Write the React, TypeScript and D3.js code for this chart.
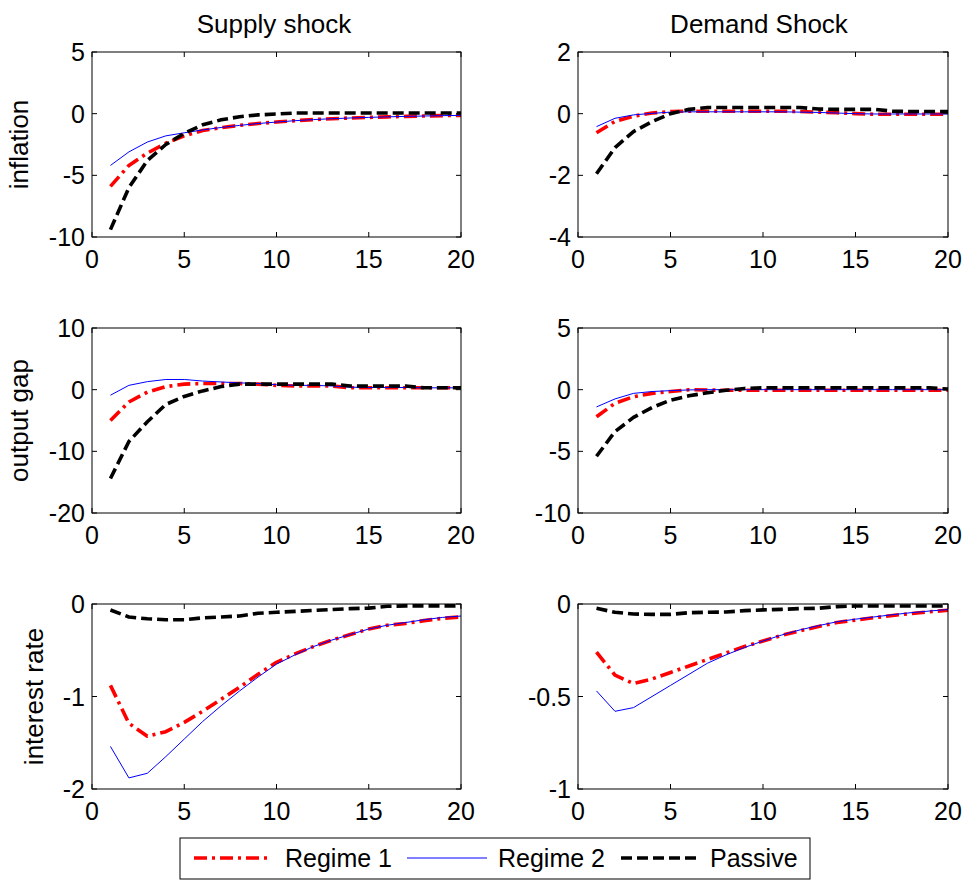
import React from "react";
import * as d3 from "d3";

const periods = [1, 2, 3, 4, 5, 6, 7, 8, 9, 10, 11, 12, 13, 14, 15, 16, 17, 18, 19, 20];
const xTicks = [0, 5, 10, 15, 20];
const seriesNames = ["Regime 1", "Regime 2", "Passive"];
const columnTitles = ["Supply shock", "Demand Shock"];
const rowLabels = ["inflation", "output gap", "interest rate"];

const inflSupplyR1 = [-5.9, -4.2, -3.2, -2.4, -1.8, -1.37, -1.13, -0.95, -0.8, -0.68, -0.57, -0.48, -0.41, -0.35, -0.3, -0.26, -0.22, -0.19, -0.16, -0.14];
const inflSupplyR2 = [-4.2, -3.1, -2.3, -1.8, -1.55, -1.32, -1.12, -0.95, -0.8, -0.68, -0.57, -0.48, -0.41, -0.35, -0.3, -0.26, -0.22, -0.19, -0.16, -0.14];
const inflSupplyP = [-9.4, -6.0, -3.8, -2.5, -1.6, -0.9, -0.5, -0.25, -0.1, -0.03, 0.05, 0.05, 0.05, 0.05, 0.05, 0.05, 0.05, 0.05, 0.05, 0.05];

const inflDemandR1 = [-0.62, -0.25, -0.08, 0.02, 0.07, 0.08, 0.08, 0.08, 0.08, 0.08, 0.08, 0.07, 0.05, 0.03, 0.0, -0.02, -0.02, -0.02, -0.02, -0.02];
const inflDemandR2 = [-0.42, -0.15, -0.04, 0.01, 0.05, 0.06, 0.06, 0.06, 0.06, 0.06, 0.06, 0.05, 0.04, 0.02, 0.0, -0.01, -0.01, -0.01, -0.01, -0.01];
const inflDemandP = [-1.95, -1.1, -0.58, -0.26, 0.0, 0.14, 0.2, 0.2, 0.2, 0.2, 0.2, 0.2, 0.15, 0.14, 0.14, 0.14, 0.08, 0.07, 0.07, 0.07];

const outSupplyR1 = [-5.0, -2.0, -0.4, 0.5, 0.9, 1.0, 1.0, 1.0, 0.9, 0.7, 0.6, 0.6, 0.6, 0.3, 0.3, 0.3, 0.3, 0.3, 0.3, 0.3];
const outSupplyR2 = [-0.9, 0.7, 1.3, 1.65, 1.65, 1.4, 1.25, 1.1, 1.0, 0.8, 0.7, 0.7, 0.6, 0.4, 0.35, 0.35, 0.35, 0.3, 0.3, 0.3];
const outSupplyP = [-14.4, -8.4, -5.2, -2.4, -1.1, -0.2, 0.5, 0.9, 0.9, 0.9, 0.9, 0.9, 0.9, 0.6, 0.6, 0.6, 0.6, 0.3, 0.3, 0.3];

const outDemandR1 = [-2.2, -1.1, -0.57, -0.3, -0.15, 0.0, -0.03, -0.05, -0.05, -0.05, -0.05, -0.05, -0.05, -0.05, -0.05, -0.05, -0.05, -0.05, -0.05, -0.05];
const outDemandR2 = [-1.4, -0.75, -0.3, -0.15, -0.08, -0.02, 0, 0, 0, 0, 0, 0, 0, 0, 0, 0, 0, 0, 0, 0];
const outDemandP = [-5.4, -3.4, -2.25, -1.45, -0.85, -0.5, -0.25, -0.05, 0.1, 0.15, 0.15, 0.15, 0.15, 0.15, 0.15, 0.15, 0.15, 0.15, 0.15, 0.05];

const rateSupplyR1 = [-0.88, -1.29, -1.43, -1.38, -1.28, -1.16, -1.03, -0.9, -0.76, -0.63, -0.54, -0.46, -0.39, -0.33, -0.27, -0.23, -0.21, -0.18, -0.155, -0.14];
const rateSupplyR2 = [-1.54, -1.88, -1.83, -1.65, -1.46, -1.27, -1.1, -0.94, -0.79, -0.65, -0.55, -0.46, -0.39, -0.33, -0.27, -0.23, -0.2, -0.17, -0.145, -0.13];
const rateSupplyP = [-0.065, -0.14, -0.16, -0.17, -0.17, -0.15, -0.14, -0.13, -0.1, -0.09, -0.08, -0.07, -0.06, -0.05, -0.045, -0.025, -0.02, -0.02, -0.02, -0.02];

const rateDemandR1 = [-0.26, -0.385, -0.43, -0.405, -0.37, -0.335, -0.3, -0.265, -0.23, -0.2, -0.17, -0.145, -0.122, -0.1, -0.087, -0.074, -0.062, -0.052, -0.042, -0.034];
const rateDemandR2 = [-0.47, -0.58, -0.56, -0.5, -0.44, -0.38, -0.32, -0.275, -0.235, -0.2, -0.168, -0.14, -0.117, -0.096, -0.082, -0.07, -0.058, -0.047, -0.038, -0.03];
const rateDemandP = [-0.023, -0.045, -0.054, -0.056, -0.056, -0.047, -0.045, -0.043, -0.036, -0.032, -0.029, -0.025, -0.023, -0.014, -0.011, -0.011, -0.011, -0.011, -0.011, -0.011];

const yDomains = [
  [[-10, 5], [-4, 2]],
  [[-20, 10], [-10, 5]],
  [[-2, 0], [-1, 0]],
];
const yTickSets = [
  [[-10, -5, 0, 5], [-4, -2, 0, 2]],
  [[-20, -10, 0, 10], [-10, -5, 0, 5]],
  [[-2, -1, 0], [-1, -0.5, 0]],
];
const panelData = [
  [[inflSupplyR1, inflSupplyR2, inflSupplyP], [inflDemandR1, inflDemandR2, inflDemandP]],
  [[outSupplyR1, outSupplyR2, outSupplyP], [outDemandR1, outDemandR2, outDemandP]],
  [[rateSupplyR1, rateSupplyR2, rateSupplyP], [rateDemandR1, rateDemandR2, rateDemandP]],
];

const styles = [
  { color: "#ff0000", width: 3.6, dash: "13,5,3,5" },
  { color: "#0000ff", width: 1, dash: "none" },
  { color: "#000000", width: 3.6, dash: "11,5" },
];

const FONT = "'Liberation Sans', Arial, Helvetica, sans-serif";
const colLeft = [92, 578];
const colWidth = [369, 370];
const rowTop = [52, 328, 604];
const panelH = 185;
const tickLen = 5;

function fmt(v: number) {
  return String(v);
}

function Panel({ r, c }: { r: number; c: number }) {
  const x0 = colLeft[c];
  const w = colWidth[c];
  const y0 = rowTop[r];
  const xs = d3.scaleLinear().domain([0, 20]).range([x0, x0 + w]);
  const ys = d3.scaleLinear().domain(yDomains[r][c]).range([y0 + panelH, y0]);
  const line = d3
    .line<number>()
    .x((_, i) => xs(periods[i]))
    .y((d) => ys(d));
  return (
    <g>
      {panelData[r][c].map((s, k) => (
        <path
          key={k}
          d={line(s) || ""}
          fill="none"
          stroke={styles[k].color}
          strokeWidth={styles[k].width}
          strokeDasharray={styles[k].dash}
          strokeLinejoin="round"
        />
      ))}
      <rect x={x0} y={y0} width={w} height={panelH} fill="none" stroke="#000" strokeWidth={1} />
      {xTicks.map((t) => (
        <g key={"x" + t}>
          <line x1={xs(t)} x2={xs(t)} y1={y0 + panelH} y2={y0 + panelH - tickLen} stroke="#000" />
          <line x1={xs(t)} x2={xs(t)} y1={y0} y2={y0 + tickLen} stroke="#000" />
          <text x={xs(t)} y={y0 + panelH + 31} textAnchor="middle" fontSize={25} fontFamily={FONT}>
            {fmt(t)}
          </text>
        </g>
      ))}
      {yTickSets[r][c].map((t) => (
        <g key={"y" + t}>
          <line x1={x0} x2={x0 + tickLen} y1={ys(t)} y2={ys(t)} stroke="#000" />
          <line x1={x0 + w} x2={x0 + w - tickLen} y1={ys(t)} y2={ys(t)} stroke="#000" />
          <text x={x0 - 7} y={ys(t)} dy="0.36em" textAnchor="end" fontSize={25} fontFamily={FONT}>
            {fmt(t)}
          </text>
        </g>
      ))}
    </g>
  );
}

export default function App() {
  const labelX = [28, 28, 43];
  const titleX = [274, 759];
  const legendItems = [
    { x1: 194, x2: 272, tx: 285 },
    { x1: 407, x2: 487, tx: 498 },
    { x1: 621, x2: 701, tx: 710 },
  ];
  return (
    <svg
      width={966}
      height={880}
      style={{ position: "absolute", left: 0, top: 0, background: "#fff" }}
    >
      <rect x={0} y={0} width={966} height={880} fill="#fff" />
      {rowTop.map((_, r) =>
        colLeft.map((__, c) => <Panel key={r + "-" + c} r={r} c={c} />)
      )}
      {columnTitles.map((t, c) => (
        <text key={t} x={titleX[c]} y={33} textAnchor="middle" fontSize={26} fontFamily={FONT}>
          {t}
        </text>
      ))}
      {rowLabels.map((t, r) => (
        <text
          key={t}
          transform={`translate(${labelX[r]},${rowTop[r] + panelH / 2}) rotate(-90)`}
          textAnchor="middle"
          fontSize={26}
          fontFamily={FONT}
        >
          {t}
        </text>
      ))}
      <rect x={180} y={838} width={630} height={41} fill="#fff" stroke="#000" strokeWidth={1} />
      {legendItems.map((it, k) => (
        <g key={k}>
          <line
            x1={it.x1}
            x2={it.x2}
            y1={858}
            y2={858}
            stroke={styles[k].color}
            strokeWidth={styles[k].width}
            strokeDasharray={styles[k].dash}
          />
          <text x={it.tx} y={867} fontSize={25} fontFamily={FONT}>
            {seriesNames[k]}
          </text>
        </g>
      ))}
    </svg>
  );
}
